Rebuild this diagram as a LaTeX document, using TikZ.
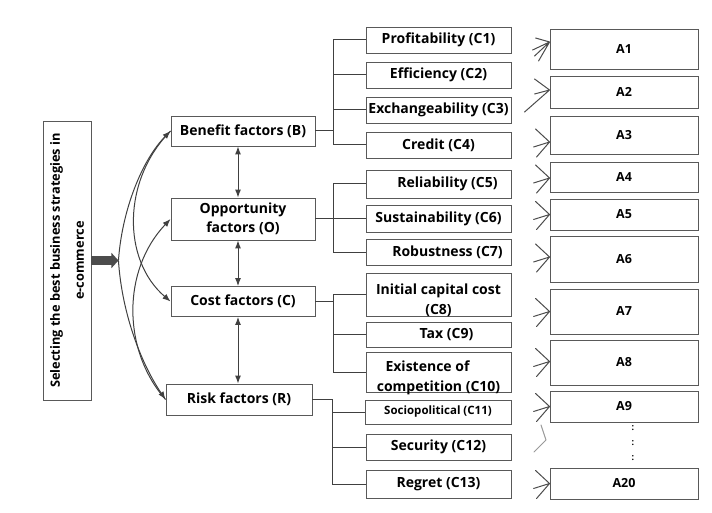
\documentclass[tikz,border=0pt]{standalone}
\usepackage{fontspec}
\setmainfont{Open Sans}
\usetikzlibrary{arrows.meta, calc}

\tikzset{
  box/.style={draw=black!65, line width=0.9pt, inner sep=1pt, align=center,
    font=\bfseries\fontsize{14}{19}\selectfont},
  fbox/.style={box, minimum width=144, minimum height=#1},
  cbox/.style={box, minimum width=145, minimum height=#1},
  abox/.style={box, minimum width=148, minimum height=#1,
    font=\bfseries\fontsize{12.5}{15}\selectfont},
  ctext/.style={inner sep=0pt, align=center, font=\bfseries\fontsize{14}{20}\selectfont},
  link/.style={draw=black!75, line width=1pt},
  fan/.style={draw=black!70, line width=1pt, line cap=round},
  big/.style={draw=black!70, line width=9pt, -{Triangle[length=7pt,width=15pt]}}
}

\begin{document}
\begin{tikzpicture}[x=1pt, y=-1pt, >={Latex[length=8pt,width=6pt]}]
 \useasboundingbox (0,0) rectangle (712,513);

 % goal
 \node [box, minimum width=48, minimum height=279, inner sep=0pt,
   font=\bfseries\fontsize{12.8}{24}\selectfont] (G) at (67,260.5)
   {\rotatebox{90}{\begin{tabular}{@{}c@{}}Selecting the best business strategies in\\e-commerce\end{tabular}}};
 \coordinate (hub) at ($(G.east)+(27,0)$);
 \draw [big] (G.east) -- (hub);

 % factors
 \node [fbox=30] (B) at (243,131) {Benefit factors (B)};
 \node [fbox=42] (O) at (243,219) {Opportunity\\factors (O)};
 \node [fbox=30] (C) at (243,301.5) {Cost factors (C)};
 \node [fbox=31, minimum width=146] (R) at (239,399.5) {Risk factors (R)};

 \draw [link, ->] (hub) .. controls (122,210) and (142,160) .. (B.west);
 \draw [link, ->] (hub) .. controls (122,315) and (142,365) .. (R.west);
 \draw [link, ->] (B.west) .. controls (122,180) and (122,260) .. (C.west);
 \draw [link, ->] (R.west) .. controls (122,350) and (122,270) .. (O.west);

 \draw [link, <->] ([xshift=-5pt]B.south) -- ([xshift=-5pt]O.north);
 \draw [link, <->] ([xshift=-5pt]O.south) -- ([xshift=-5pt]C.north);
 \draw [link, <->] ([xshift=-5pt]C.south) -- ([xshift=-1pt]R.north);

 % criteria
 \node [cbox=26] (c1) at (438.5,40) {Profitability (C1)};
 \node [cbox=26] (c2) at (438.5,75) {Efficiency (C2)};
 \node [cbox=26] (c3) at (438.5,110) {Exchangeability (C3)};
 \node [cbox=26] (c4) at (438.5,145) {Credit (C4)};
 \node [cbox=28] (c5) at (438.5,184) {\hspace*{18pt}Reliability (C5)};
 \node [cbox=27] (c6) at (438.5,218.5) {Sustainability (C6)};
 \node [cbox=26] (c7) at (438.5,252) {\hspace*{18pt}Robustness (C7)};
 \node [cbox=43, label={[ctext, yshift=-5.5pt]center:{Initial capital cost\\(C8)}}] (c8) at (438.5,294.5) {};
 \node [cbox=25] (c9) at (438.5,334.5) {\hspace*{16pt}Tax (C9)};
 \node [cbox=40, label={[ctext, yshift=-6pt]center:{\hspace*{-22pt}Existence of\\competition (C10)}}] (c10) at (438.5,372) {};
 \node [cbox=24, minimum width=146, font=\bfseries\fontsize{11.5}{14}\selectfont] (c11) at (438,412) {Sociopolitical (C11)};
 \node [cbox=26] (c12) at (438.5,447) {Security (C12)};
 \node [cbox=28] (c13) at (438.5,484) {Regret (C13)};

 \foreach \c in {c1,c2,c3,c4} \draw [link] (B.east) -- ++(18,0) |- (\c.west);
 \foreach \c in {c5,c6,c7} \draw [link] (O.east) -- ++(18,0) |- (\c.west);
 \foreach \c in {c8,c9,c10} \draw [link] (C.east) -- ++(18,0) |- (\c.west);
 \foreach \c in {c11,c12,c13} \draw [link] (R.east) -- ++(20,0) |- (\c.west);

 % alternatives
 \node [abox=40] (a1) at (624,49) {A1};
 \node [abox=32] (a2) at (624,92) {A2};
 \node [abox=38] (a3) at (624,135) {A3};
 \node [abox=30] (a4) at (624,177) {A4};
 \node [abox=31] (a5) at (624,214.5) {A5};
 \node [abox=46] (a6) at (624,259) {A6};
 \node [abox=45] (a7) at (624,311.5) {A7};
 \node [abox=45] (a8) at (624,362.5) {A8};
 \node [abox=31] (a9) at (624,406.5) {A9};
 \node [abox=31] (a20) at (624,483.5) {A20};
 \node [inner sep=0pt, align=center, font=\bfseries\fontsize{9}{15}\selectfont] (dots) at (633,443) {:\\:\\:};

 \foreach \a/\dy in {a1/7, a2/2, a3/-7, a4/-1, a5/0, a6/2, a7/0, a8/1, a9/0, a20/0}
  \coordinate (\a-in) at ([yshift=\dy pt]\a.west);
 \coordinate (gap-in) at (546,440);

 \draw [fan] (a1-in) -- ++(-14,-4) (a1-in) -- ++(-17,8) (a1-in) -- ++(-15,14) (a1-in) -- ++(-11,19);
 \draw [fan] (a2-in) -- ++(-15,-11) (a2-in) -- ++(-15,4) (a2-in) -- ++(-25,22);
 \foreach \a in {a3,a4,a5,a6,a7,a8,a9,a20}
  \draw [fan] (\a-in) -- ++(-14,-13) (\a-in) -- ++(-16,5) (\a-in) -- ++(-13,15);
 \draw [fan, draw=black!40] (gap-in) -- ++(-5,-15) (gap-in) -- ++(-12,12);
\end{tikzpicture}
\end{document}
